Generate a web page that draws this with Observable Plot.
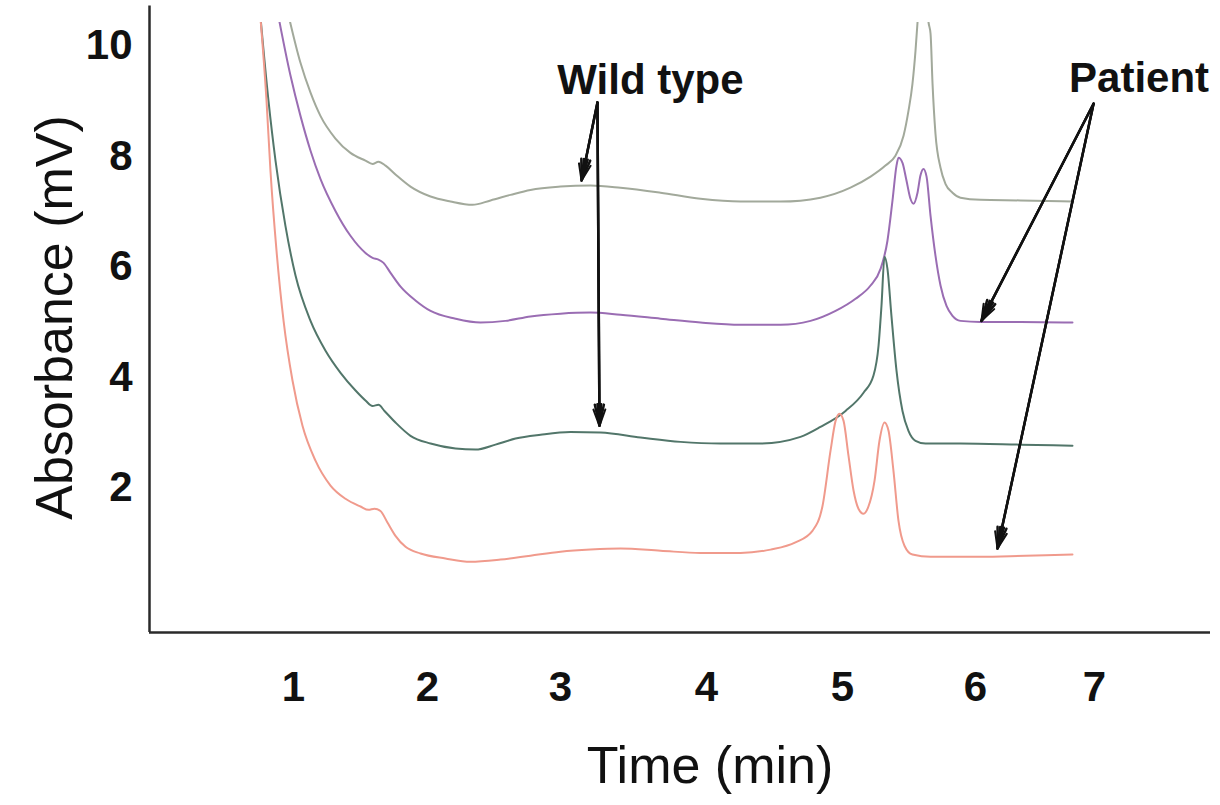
<!DOCTYPE html>
<html><head><meta charset="utf-8">
<script src="https://cdn.jsdelivr.net/npm/d3@7"></script>
<script src="https://cdn.jsdelivr.net/npm/@observablehq/plot@0.6"></script>
<style>body{margin:0;background:#fff} #chart svg{display:block}</style>
</head><body><div id="chart"></div>
<script>
// ---- tick labels ----
const timeTicks = [1, 2, 3, 4, 5, 6, 7];
const absTicks = [2, 4, 6, 8, 10];

// ---- series names ----
const seriesNames = ["Wild type (upper)", "Patient (upper)", "Wild type (lower)", "Patient (lower)"];

// ---- Wild type, upper trace ----
const wtUpperTime = [0.951, 1.052, 1.127, 1.201, 1.313, 1.425, 1.537, 1.590, 1.634, 1.687, 1.761, 1.873, 2.023, 2.173, 2.338, 2.474, 2.624, 2.774, 3.000, 3.205, 3.411, 3.685, 3.959, 4.250, 4.544, 4.838, 5.060, 5.211, 5.323, 5.398, 5.459, 5.496, 5.526, 5.549, 5.564, 5.602, 5.647, 5.662, 5.677, 5.699, 5.737, 5.774, 5.827, 5.887, 6.042, 6.378, 6.815];
const wtUpperAbs = [10.71, 9.69, 9.15, 8.73, 8.32, 8.06, 7.92, 7.86, 7.90, 7.83, 7.67, 7.45, 7.27, 7.18, 7.12, 7.20, 7.30, 7.39, 7.45, 7.47, 7.43, 7.34, 7.23, 7.18, 7.18, 7.25, 7.43, 7.63, 7.83, 8.01, 8.37, 8.82, 9.31, 9.91, 10.42, 12.0, 10.42, 10.22, 9.31, 8.41, 7.79, 7.50, 7.34, 7.25, 7.21, 7.20, 7.18];

// ---- Patient, upper trace ----
const ptUpperTime = [0.882, 0.979, 1.052, 1.127, 1.201, 1.313, 1.425, 1.537, 1.590, 1.634, 1.672, 1.724, 1.799, 1.910, 2.023, 2.211, 2.398, 2.586, 2.774, 3.000, 3.205, 3.411, 3.685, 3.959, 4.250, 4.544, 4.765, 4.949, 5.098, 5.211, 5.286, 5.338, 5.376, 5.406, 5.421, 5.451, 5.481, 5.511, 5.534, 5.564, 5.586, 5.609, 5.632, 5.662, 5.699, 5.737, 5.782, 5.827, 5.887, 6.042, 6.378, 6.815];
const ptUpperAbs = [10.71, 9.46, 8.73, 8.10, 7.59, 7.01, 6.56, 6.25, 6.16, 6.13, 6.07, 5.89, 5.64, 5.39, 5.20, 5.06, 4.99, 5.02, 5.10, 5.15, 5.17, 5.13, 5.06, 4.99, 4.95, 4.95, 5.02, 5.20, 5.42, 5.66, 5.96, 6.47, 7.20, 7.83, 7.97, 7.88, 7.56, 7.23, 7.14, 7.34, 7.65, 7.77, 7.63, 6.92, 6.20, 5.66, 5.29, 5.11, 5.02, 5.00, 5.00, 4.99];

// ---- Wild type, lower trace ----
const wtLowerTime = [0.764, 0.826, 0.875, 0.944, 1.015, 1.127, 1.239, 1.351, 1.463, 1.537, 1.590, 1.634, 1.679, 1.761, 1.873, 2.023, 2.211, 2.361, 2.511, 2.662, 2.850, 3.068, 3.274, 3.548, 3.822, 4.103, 4.397, 4.691, 4.838, 5.023, 5.158, 5.233, 5.271, 5.293, 5.316, 5.338, 5.368, 5.406, 5.451, 5.496, 5.549, 5.624, 5.887, 6.378, 6.815];
const wtLowerAbs = [10.71, 9.01, 7.92, 6.74, 5.84, 5.02, 4.48, 4.08, 3.76, 3.58, 3.48, 3.50, 3.39, 3.18, 2.94, 2.80, 2.71, 2.69, 2.78, 2.89, 2.96, 3.01, 3.00, 2.91, 2.83, 2.80, 2.80, 2.92, 3.10, 3.39, 3.72, 4.03, 4.57, 5.29, 6.18, 5.96, 5.11, 4.12, 3.39, 3.03, 2.85, 2.80, 2.80, 2.78, 2.76];

// ---- Patient, lower trace ----
const ptLowerTime = [0.764, 0.8125, 0.840, 0.882, 0.931, 0.993, 1.067, 1.164, 1.276, 1.388, 1.500, 1.560, 1.604, 1.649, 1.701, 1.761, 1.836, 1.948, 2.135, 2.323, 2.549, 2.774, 3.000, 3.205, 3.411, 3.685, 3.959, 4.250, 4.471, 4.654, 4.779, 4.853, 4.912, 4.949, 4.978, 5.008, 5.045, 5.083, 5.120, 5.158, 5.195, 5.241, 5.278, 5.316, 5.346, 5.383, 5.421, 5.466, 5.526, 5.662, 6.042, 6.420, 6.815];
const ptLowerAbs = [10.71, 9.01, 7.74, 6.29, 5.02, 3.94, 3.12, 2.49, 2.04, 1.80, 1.66, 1.60, 1.62, 1.58, 1.37, 1.13, 0.93, 0.81, 0.72, 0.66, 0.70, 0.77, 0.84, 0.88, 0.90, 0.86, 0.82, 0.82, 0.88, 1.01, 1.22, 1.67, 2.67, 3.21, 3.34, 3.21, 2.58, 1.95, 1.62, 1.53, 1.66, 2.13, 2.85, 3.18, 3.03, 2.31, 1.40, 0.95, 0.79, 0.75, 0.75, 0.77, 0.79];

// ---- annotations ----
const annotationLabels = ["Wild type", "Patient"];
const annotationTime = [3.616, 7.384];
const annotationAbs = [9.37, 9.41];
const arrowFromTime = [3.253, 3.253, 6.992, 6.992];
const arrowFromAbs = [8.97, 8.97, 8.95, 8.95];
const arrowToTime = [3.144, 3.267, 6.050, 6.185];
const arrowToAbs = [7.56, 3.12, 5.02, 0.90];

// ---- build table ----
const seriesTimes = [wtUpperTime, ptUpperTime, wtLowerTime, ptLowerTime];
const seriesAbs = [wtUpperAbs, ptUpperAbs, wtLowerAbs, ptLowerAbs];
const table = seriesNames.flatMap((name, s) =>
  seriesTimes[s].map((t, i) => ({series: name, time: t, abs: seriesAbs[s][i]})));
const arrowIdx = arrowFromTime.map((_, i) => i);
const labelIdx = annotationLabels.map((_, i) => i);

const font = "'Liberation Sans', Arial, Helvetica, sans-serif";
const arrowOpts = {
  x1: i => arrowFromTime[i], y1: i => arrowFromAbs[i],
  x2: i => arrowToTime[i], y2: i => arrowToAbs[i],
  stroke: "#111", strokeWidth: 2, headLength: 13
};

const chart = Plot.plot({
  width: 1220,
  height: 805,
  marginLeft: 149,
  marginRight: 10,
  marginTop: 22,
  marginBottom: 173,
  style: {fontFamily: font, fontSize: "42px", fontWeight: "bold", background: "white", color: "#111"},
  x: {
    type: "linear",
    domain: [0, 1, 2, 3, 4, 5, 6, 7, 8],
    range: [149, 293, 427, 560, 706, 842, 975, 1094, 1210],
    ticks: timeTicks,
    tickSize: 0,
    tickPadding: 39,
    tickFormat: d => String(d),
    label: null
  },
  y: {
    domain: [-0.62, 10.42],
    ticks: absTicks,
    tickSize: 0,
    tickPadding: 17,
    tickFormat: d => String(d),
    label: null
  },
  color: {domain: seriesNames, range: ["#a2a99b", "#9a6db3", "#52766a", "#f09a8c"]},
  marks: [
    Plot.line(table, {x: "time", y: "abs", z: "series", stroke: "series", strokeWidth: 2, curve: "monotone-x", clip: true}),
    Plot.ruleX([0], {y1: -0.62, y2: 10.72, stroke: "#2a2a2a", strokeWidth: 2.5}),
    Plot.ruleY([-0.62], {stroke: "#2a2a2a", strokeWidth: 2.5}),
    Plot.arrow(arrowIdx, {...arrowOpts, headAngle: 40}),
    Plot.arrow(arrowIdx, {...arrowOpts, headAngle: 24, strokeWidth: 2.5}),
    Plot.arrow(arrowIdx, {...arrowOpts, headAngle: 10, strokeWidth: 2.5}),
    Plot.text(labelIdx, {
      x: i => annotationTime[i], y: i => annotationAbs[i], text: i => annotationLabels[i],
      fontSize: 42, fontWeight: "bold", textAnchor: "middle", lineAnchor: "middle", fill: "#111"
    }),
    Plot.text(["Absorbance (mV)"], {
      frameAnchor: "left", dx: -94, dy: -10, rotate: -90, text: d => d,
      fontSize: 52, fontWeight: "normal", textAnchor: "middle", lineAnchor: "middle", fill: "#111"
    }),
    Plot.text(["Time (min)"], {
      frameAnchor: "bottom", dx: 30, dy: 134, text: d => d,
      fontSize: 52, fontWeight: "normal", textAnchor: "middle", lineAnchor: "middle", fill: "#111"
    })
  ]
});
document.getElementById("chart").appendChild(chart);
</script>
</body></html>
